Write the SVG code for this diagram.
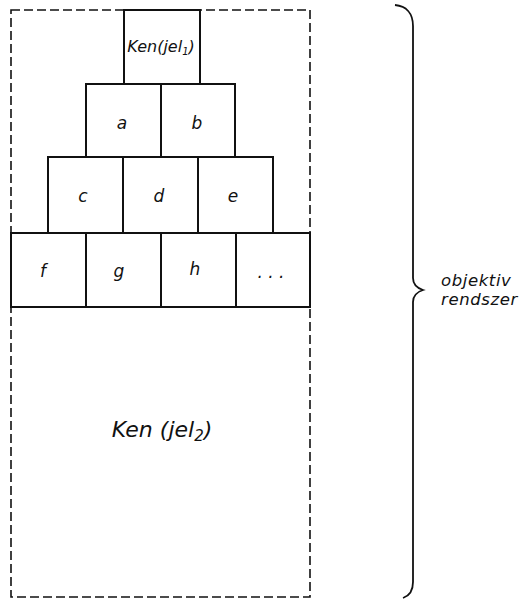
<svg xmlns="http://www.w3.org/2000/svg" width="526" height="599" viewBox="0 0 526 599">
<style>
.box{fill:#fff;stroke:#111;stroke-width:2}
.dash{fill:none;stroke:#111;stroke-width:1.6;stroke-dasharray:9 4}
.t{font-family:"DejaVu Sans","Liberation Sans",sans-serif;font-style:italic;fill:#111;text-anchor:middle}
.l{font-family:"DejaVu Sans","Liberation Sans",sans-serif;font-style:italic;fill:#111;text-anchor:start;font-size:16.5px;letter-spacing:0.6px}
.s{font-size:17px}
.brace{fill:none;stroke:#111;stroke-width:1.8}
</style>
<rect width="526" height="599" fill="#fff"/>
<g id="system">
<rect class="dash" x="11" y="10" width="299" height="587"/>
</g>
<g id="ken1"><rect class="box" x="124" y="10" width="76" height="74"/><text class="t" x="161" y="52" font-size="16">Ken(jel<tspan font-size="10" dy="3">1</tspan><tspan dy="-3">)</tspan></text></g>
<g id="a"><rect class="box" x="86" y="84" width="75" height="73"/><text class="t s" x="122" y="129">a</text></g>
<g id="b"><rect class="box" x="161" y="84" width="74" height="73"/><text class="t s" x="197" y="129">b</text></g>
<g id="c"><rect class="box" x="48" y="157" width="75" height="76"/><text class="t s" x="83" y="202">c</text></g>
<g id="d"><rect class="box" x="123" y="157" width="75" height="76"/><text class="t s" x="159" y="202">d</text></g>
<g id="e"><rect class="box" x="198" y="157" width="75" height="76"/><text class="t s" x="233" y="202">e</text></g>
<g id="f"><rect class="box" x="11" y="233" width="75" height="74"/><text class="t s" x="43" y="277">f</text></g>
<g id="g"><rect class="box" x="86" y="233" width="75" height="74"/><text class="t s" x="119" y="277">g</text></g>
<g id="h"><rect class="box" x="161" y="233" width="75" height="74"/><text class="t s" x="195" y="275">h</text></g>
<g id="more"><rect class="box" x="236" y="233" width="74" height="74"/><text class="t s" x="271" y="278">. . .</text></g>
<g id="ken2"><text class="t" x="162" y="437" font-size="22">Ken (jel<tspan font-size="15" dy="4">2</tspan><tspan dy="-4">)</tspan></text></g>
<g id="connectors">
<path class="brace" d="M395,5 C406,6 413,13 413,26 L413,278 C413,285 417,288 423,290 C417,292 413,295 413,302 L413,582 C413,591 409,596 403,598"/>
</g>
<g id="label"><text class="l" x="441" y="286">objektiv</text><text class="l" x="441" y="305">rendszer</text></g>
</svg>
